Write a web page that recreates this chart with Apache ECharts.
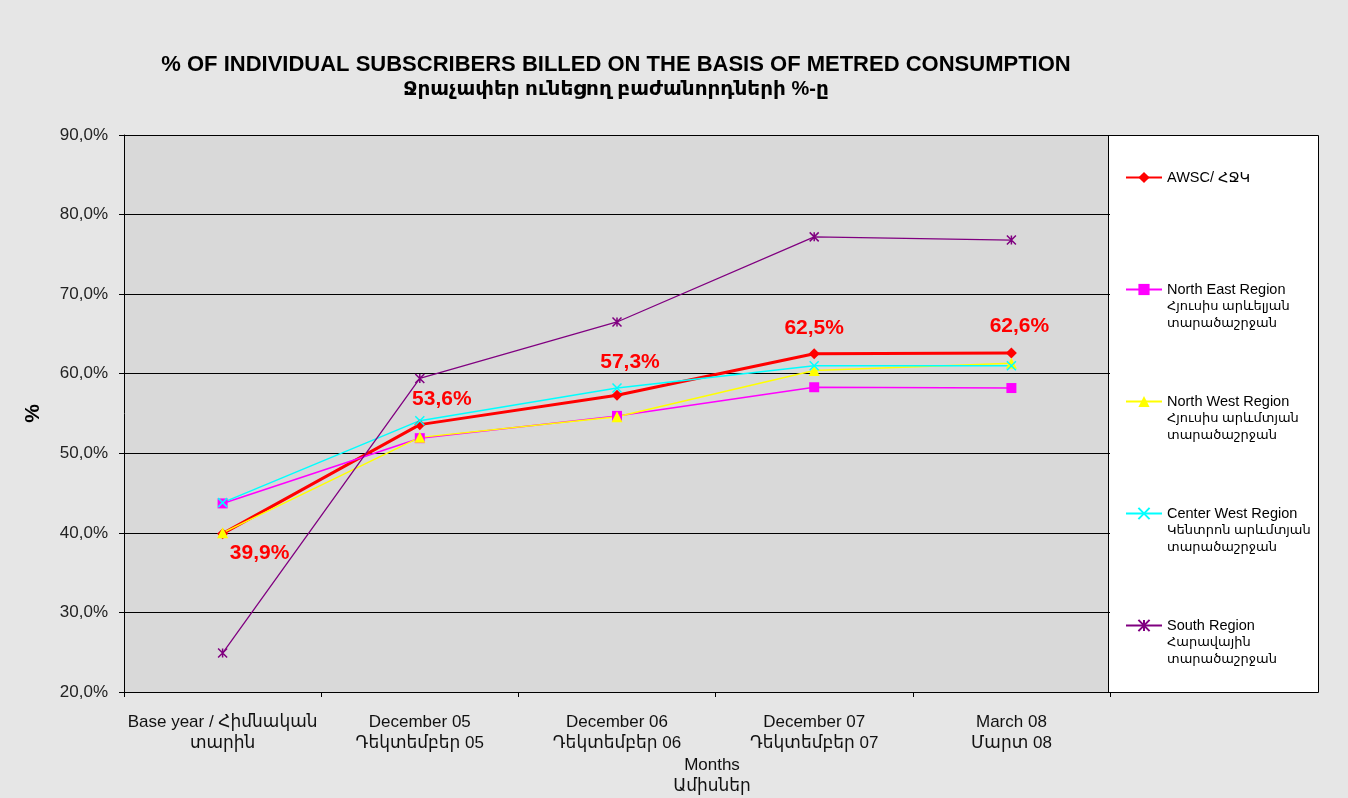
<!DOCTYPE html>
<html>
<head>
<meta charset="utf-8">
<title>Metred consumption</title>
<script src="https://cdn.jsdelivr.net/npm/echarts@6/dist/echarts.min.js"></script>
<style>
  html, body { margin: 0; padding: 0; }
  #chart { width: 1348px; height: 798px; }
</style>
</head>
<body>
<div id="chart"></div>
<script>
// categories and values
const categories = [
  'Base year / Հիմնական\nտարին',
  'December 05\nԴեկտեմբեր 05',
  'December 06\nԴեկտեմբեր 06',
  'December 07\nԴեկտեմբեր 07',
  'March 08\nՄարտ 08'
]
const awsc = [39.9, 53.6, 57.3, 62.5, 62.6]
const northEast = [43.7, 51.9, 54.7, 58.3, 58.2]
const northWest = [40.0, 52.0, 54.6, 60.4, 61.3]
const centerWest = [43.8, 54.1, 58.2, 61.0, 61.0]
const south = [24.9, 59.4, 66.5, 77.2, 76.8]

const seriesNames = ['AWSC/ ՀՋԿ', 'North East Region', 'North West Region', 'Center West Region', 'South Region']
const legendSubLines = [
  [],
  ['Հյուսիս արևելյան', 'տարածաշրջան'],
  ['Հյուսիս արևմտյան', 'տարածաշրջան'],
  ['Կենտրոն արևմտյան', 'տարածաշրջան'],
  ['Հարավային', 'տարածաշրջան']
]
const yTicks = { min: 20, max: 90, interval: 10 }

const FONT = 'Arial, "Liberation Sans", "DejaVu Sans", sans-serif'
const fmtPct = v => v.toFixed(1).replace('.', ',') + '%'

// label nudges for the red series
const awscLabelPos = ['bottom', 'top', 'top', 'top', 'top']
const awscLabelOffset = [[37, -1], [22, -4], [13, -12], [0, -5], [8, -6]]

const xPath = 'path://M0,0L10,10M10,0L0,10'
const starPath = 'path://M0,0L10,10M10,0L0,10M5,0L5,10'

function lineSeries(name, data, color, width, symbol, size, stroked) {
  return {
    name: name,
    type: 'line',
    data: data,
    symbol: symbol,
    symbolSize: size,
    showAllSymbol: true,
    lineStyle: { color: color, width: width },
    itemStyle: { color: color, borderColor: color, borderWidth: stroked ? 1.5 : 0 },
    emphasis: { disabled: true },
    animation: false
  }
}

const chart = echarts.init(document.getElementById('chart'))

const awscSeries = lineSeries(seriesNames[0], awsc.map((v, i) => ({
  value: v,
  label: { position: awscLabelPos[i], offset: awscLabelOffset[i] }
})), '#ff0000', 3, 'diamond', 11, false)
awscSeries.label = {
  show: true,
  formatter: p => fmtPct(p.value),
  color: '#ff0000',
  fontFamily: FONT,
  fontWeight: 'bold',
  fontSize: 21
}

const option = {
  backgroundColor: '#e6e6e6',
  graphic: [
    {
      type: 'text', x: 616, y: 65, z: 5,
      style: {
        text: '% OF INDIVIDUAL SUBSCRIBERS BILLED ON THE BASIS OF METRED CONSUMPTION',
        fill: '#000', font: 'bold 22px ' + FONT, align: 'center', verticalAlign: 'middle'
      }
    },
    {
      type: 'text', x: 616, y: 89, z: 5,
      style: {
        text: 'Ջրաչափեր ունեցող բաժանորդների %-ը',
        fill: '#000', font: 'bold 20px ' + FONT, align: 'center', verticalAlign: 'middle'
      }
    },
    {
      type: 'text', x: 712, y: 776, z: 5,
      style: {
        text: 'Months\nԱմիսներ', lineHeight: 21,
        fill: '#111', font: '17px ' + FONT, align: 'center', verticalAlign: 'middle'
      }
    },
    {
      type: 'rect', z: 0,
      shape: { x: 1108.5, y: 135.5, width: 210, height: 557 },
      style: { fill: '#ffffff', stroke: '#000', lineWidth: 1 }
    }
  ],
  legend: {
    orient: 'vertical',
    left: 1125,
    top: 135,
    padding: 0,
    itemGap: 27,
    itemWidth: 36,
    itemHeight: 14,
    z: 10,
    selectedMode: false,
    textStyle: {
      fontFamily: FONT, fontSize: 14.5, color: '#000', lineHeight: 17,
      rich: {
        a: { fontFamily: FONT, fontSize: 14.5, color: '#000', lineHeight: 17 },
        b: { fontFamily: FONT, fontSize: 13, color: '#000', lineHeight: 17 },
        e: { fontSize: 14.5, lineHeight: 17 }
      }
    },
    // two empty lines on top keep the icon beside the first line
    formatter: name => {
      const sub = legendSubLines[seriesNames.indexOf(name)]
      const rows = ['{e| }', '{e| }', '{a|' + name + '}']
      if (sub.length) sub.forEach(s => rows.push('{b|' + s + '}'))
      else rows.push('{e| }', '{e| }')
      return rows.join('\n')
    },
    data: seriesNames
  },
  grid: {
    left: 124,
    right: 238,
    top: 135,
    bottom: 106,
    show: true,
    backgroundColor: '#d9d9d9',
    borderWidth: 0
  },
  xAxis: {
    type: 'category',
    data: categories,
    boundaryGap: true,
    axisLine: { lineStyle: { color: '#000', width: 1 } },
    axisTick: { show: true, length: 5, lineStyle: { color: '#000' } },
    axisLabel: {
      color: '#111', fontFamily: FONT, fontSize: 17, lineHeight: 21, margin: 20, interval: 0
    },
    splitLine: { show: false }
  },
  yAxis: {
    type: 'value',
    min: yTicks.min,
    max: yTicks.max,
    interval: yTicks.interval,
    name: '%',
    nameLocation: 'middle',
    nameGap: 80,
    nameRotate: 90,
    nameTextStyle: { fontFamily: FONT, fontSize: 21, fontWeight: 'bold', color: '#000' },
    axisLine: { show: true, lineStyle: { color: '#000', width: 1 } },
    axisTick: { show: true, length: 5, lineStyle: { color: '#000' } },
    axisLabel: {
      formatter: v => fmtPct(v),
      color: '#222', fontFamily: FONT, fontSize: 17, margin: 16
    },
    splitLine: { show: true, lineStyle: { color: '#000', width: 1 } }
  },
  series: [
    awscSeries,
    lineSeries(seriesNames[1], northEast, '#ff00ff', 1.5, 'rect', 10, false),
    lineSeries(seriesNames[2], northWest, '#ffff00', 1.5, 'triangle', 11, false),
    lineSeries(seriesNames[3], centerWest, '#00ffff', 1.5, xPath, 9, true),
    lineSeries(seriesNames[4], south, '#800080', 1.3, starPath, 9, true)
  ]
}

chart.setOption(option)
</script>
</body>
</html>
